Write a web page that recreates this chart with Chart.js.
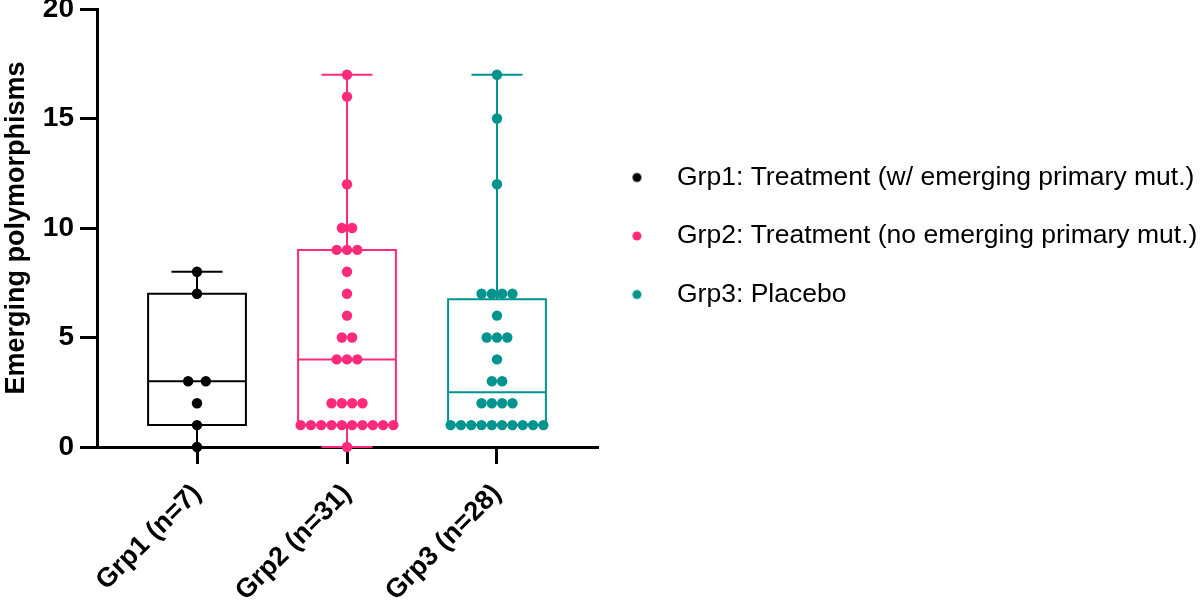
<!DOCTYPE html>
<html>
<head>
<meta charset="utf-8">
<script src="https://cdn.jsdelivr.net/npm/chart.js@4.4.1/dist/chart.umd.min.js"></script>
<style>
html,body{margin:0;padding:0;background:#ffffff;}
#wrap{width:1200px;height:601px;position:relative;}
</style>
</head>
<body>
<div id="wrap"><canvas id="c"></canvas></div>
<script>
// ---- data ----
const categories = ['Grp1 (n=7)', 'Grp2 (n=31)', 'Grp3 (n=28)'];
const seriesNames = [
  'Grp1: Treatment (w/ emerging primary mut.)',
  'Grp2: Treatment (no emerging primary mut.)',
  'Grp3: Placebo'
];
const grp1Values = [0, 1, 2, 3, 3, 7, 8];
const grp2Values = [0, 1, 1, 1, 1, 1, 1, 1, 1, 1, 1, 2, 2, 2, 2, 4, 4, 4, 5, 5, 6, 7, 8, 9, 9, 9, 10, 10, 12, 16, 17];
const grp3Values = [1, 1, 1, 1, 1, 1, 1, 1, 1, 1, 2, 2, 2, 2, 3, 3, 4, 5, 5, 5, 6, 7, 7, 7, 7, 12, 15, 17];
const boxMin    = [0, 0, 1];
const boxQ1     = [1, 1, 1];
const boxMedian = [3, 4, 2.5];
const boxQ3     = [7, 9, 6.75];
const boxMax    = [8, 17, 17];
const yTicks = [0, 5, 10, 15, 20];

// ---- styles ----
const colors = ['#000000', '#FF2A7A', '#00948F'];
const swarmSpacing = [0.118, 0.0687, 0.0687]; // in category units
const BOX_HALF = 0.326;
const CAP_HALF = 0.17;
const FONT = '"Liberation Sans", Arial, Helvetica, sans-serif';

Chart.defaults.font.family = FONT;
Chart.defaults.color = '#000000';

function swarm(values, gi, spacing) {
  const counts = {};
  values.forEach(v => { counts[v] = (counts[v] || 0) + 1; });
  const seen = {};
  return values.map(v => {
    const n = counts[v];
    const k = seen[v] = (seen[v] === undefined ? 0 : seen[v] + 1);
    return { x: gi + (k - (n - 1) / 2) * spacing, y: v };
  });
}

function legendDot(color) {
  const c = document.createElement('canvas');
  c.width = 30; c.height = 12;
  const g = c.getContext('2d');
  g.fillStyle = color;
  g.beginPath();
  g.arc(5.6, 6, 4.5, 0, Math.PI * 2);
  g.fill();
  return c;
}
const dotImages = colors.map(legendDot);

const allValues = [grp1Values, grp2Values, grp3Values];

const boxPlugin = {
  id: 'boxes',
  beforeLayout(chart) {
    const lg = chart.legend;
    if (lg && !lg._fixedWidth) {
      const f = lg.fit.bind(lg);
      lg.fit = function () { f(); this.width = 603; };
      lg._fixedWidth = true;
    }
  },
  beforeDatasetsDraw(chart) {
    const { ctx, scales: { x, y } } = chart;
    ctx.save();
    ctx.lineWidth = 2;
    ctx.lineCap = 'butt';
    for (let i = 0; i < categories.length; i++) {
      const cx = x.getPixelForValue(i);
      const hw = x.getPixelForValue(i + BOX_HALF) - cx;
      const cw = x.getPixelForValue(i + CAP_HALF) - cx;
      const yMin = y.getPixelForValue(boxMin[i]);
      const yQ1 = y.getPixelForValue(boxQ1[i]);
      const yMed = y.getPixelForValue(boxMedian[i]);
      const yQ3 = y.getPixelForValue(boxQ3[i]);
      const yMax = y.getPixelForValue(boxMax[i]);
      ctx.strokeStyle = colors[i];
      ctx.beginPath();
      ctx.rect(cx - hw, yQ3, 2 * hw, yQ1 - yQ3);
      ctx.moveTo(cx - hw, yMed); ctx.lineTo(cx + hw, yMed);
      ctx.moveTo(cx, yQ3); ctx.lineTo(cx, yMax);
      ctx.moveTo(cx, yQ1); ctx.lineTo(cx, yMin);
      ctx.moveTo(cx - cw, yMax); ctx.lineTo(cx + cw, yMax);
      ctx.moveTo(cx - cw, yMin); ctx.lineTo(cx + cw, yMin);
      ctx.stroke();
    }
    ctx.restore();
  }
};

const datasets = allValues.map((vals, i) => ({
  label: seriesNames[i],
  data: swarm(vals, i, swarmSpacing[i]),
  backgroundColor: colors[i],
  borderColor: colors[i],
  borderWidth: 0,
  pointRadius: 5.2,
  pointHoverRadius: 5.2,
  showLine: false,
  clip: false
}));

new Chart(document.getElementById('c'), {
  type: 'scatter',
  data: { datasets },
  plugins: [boxPlugin],
  options: {
    responsive: true,
    maintainAspectRatio: false,
    animation: false,
    layout: { padding: 0 },
    plugins: {
      tooltip: { enabled: false },
      legend: {
        display: true,
        position: 'right',
        align: 'center',
        fullSize: false,
        maxWidth: 800,
        title: { display: true, text: '', font: { size: 10, lineHeight: 1 }, padding: { top: 3, bottom: 3 } },
        labels: {
          usePointStyle: true,
          pointStyleWidth: 34.75,
          padding: 32,
          color: '#000000',
          font: { family: FONT, size: 26.5, weight: 'normal' },
          generateLabels: () => seriesNames.map((t, i) => ({
            text: t,
            fillStyle: colors[i],
            strokeStyle: colors[i],
            lineWidth: 0,
            pointStyle: dotImages[i],
            hidden: false,
            datasetIndex: i,
            fontColor: '#000000'
          }))
        }
      }
    },
    scales: {
      x: {
        type: 'linear',
        min: -0.6667,
        max: 2.6667,
        afterBuildTicks: (s) => { s.ticks = categories.map((_, i) => ({ value: i })); },
        afterFit: (s) => { s.height = 154; },
        ticks: {
          autoSkip: false,
          minRotation: 45,
          maxRotation: 45,
          padding: 14,
          color: '#000000',
          font: { family: FONT, size: 27, weight: 'bold' },
          callback: (v) => categories[Math.round(v)] ?? ''
        },
        grid: {
          drawOnChartArea: false,
          drawTicks: true,
          tickLength: 17,
          tickWidth: 3,
          lineWidth: 3,
          color: '#000000'
        },
        border: { display: true, color: '#000000', width: 3 }
      },
      y: {
        type: 'linear',
        min: 0,
        max: 20,
        afterBuildTicks: (s) => { s.ticks = yTicks.map(v => ({ value: v })); },
        afterFit: (s) => { s.width = 97; s.paddingTop = 9; },
        ticks: {
          padding: 6,
          color: '#000000',
          font: { family: FONT, size: 28, weight: 'bold' }
        },
        grid: {
          drawOnChartArea: false,
          drawTicks: true,
          tickLength: 17,
          tickWidth: 3,
          lineWidth: 3,
          color: '#000000'
        },
        border: { display: true, color: '#000000', width: 3 },
        title: {
          display: true,
          text: 'Emerging polymorphisms',
          color: '#000000',
          font: { family: FONT, size: 27, weight: 'bold' },
          padding: { top: 0, bottom: 0 }
        }
      }
    }
  }
});
</script>
</body>
</html>
